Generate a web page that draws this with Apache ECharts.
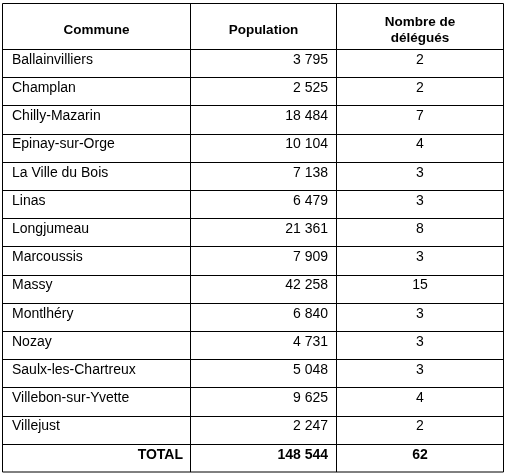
<!DOCTYPE html><html><head><meta charset="utf-8"><script src="https://cdn.jsdelivr.net/npm/echarts@6/dist/echarts.min.js"></script>
<style>html,body{margin:0;padding:0;background:#fff}#c{width:506px;height:476px}</style></head><body><div id="c"></div><script>
const headers=["Commune","Population","Nombre de\ndélégués"];
const communes=["Ballainvilliers","Champlan","Chilly-Mazarin","Epinay-sur-Orge","La Ville du Bois","Linas","Longjumeau","Marcoussis","Massy","Montlhéry","Nozay","Saulx-les-Chartreux","Villebon-sur-Yvette","Villejust"];
const population=["3 795","2 525","18 484","10 104","7 138","6 479","21 361","7 909","42 258","6 840","4 731","5 048","9 625","2 247"];
const delegues=["2","2","7","4","3","3","8","3","15","3","3","3","4","2"];
const total=["TOTAL","148 544","62"];
(function(){
const colX=[2.5,190.5,336.5,503.5];
const tableTop=3.5,headH=45.5,rowH=28.2;
const F='"Liberation Sans",Arial,sans-serif';
const g=[];
const nRows=communes.length+1;
const tableBottom=tableTop+headH+nRows*rowH;
g.push({type:'rect',shape:{x:colX[0],y:tableTop,width:colX[3]-colX[0],height:tableBottom-tableTop},style:{fill:'none',stroke:'#000',lineWidth:1}});
colX.slice(1,3).forEach(x=>g.push({type:'line',shape:{x1:x,y1:tableTop,x2:x,y2:tableBottom},style:{stroke:'#000',lineWidth:1}}));
for(let i=0;i<nRows;i++){const y=Math.round(tableTop+headH+i*rowH)+0.5;g.push({type:'line',shape:{x1:colX[0],y1:y,x2:colX[3],y2:y},style:{stroke:'#000',lineWidth:1}});}
const hc=[(colX[0]+colX[1])/2,(colX[1]+colX[2])/2,(colX[2]+colX[3])/2];
headers.forEach((h,i)=>g.push({type:'text',x:hc[i],y:tableTop+headH/2+4,style:{text:h,font:'bold 13.5px '+F,fill:'#000',align:'center',verticalAlign:'middle',lineHeight:16}}));
const rowText=(i,a,b,c,bold)=>{const yc=tableTop+headH+i*rowH+11;const f=(bold?'bold ':'')+'14px '+F;
 g.push({type:'text',x:bold?183:12,y:yc,style:{text:a,font:f,fill:'#000',align:bold?'right':'left',verticalAlign:'middle'}});
 g.push({type:'text',x:328,y:yc,style:{text:b,font:f,fill:'#000',align:'right',verticalAlign:'middle'}});
 g.push({type:'text',x:420,y:yc,style:{text:c,font:f,fill:'#000',align:'center',verticalAlign:'middle'}});};
communes.forEach((c,i)=>rowText(i,c,population[i],delegues[i],false));
rowText(communes.length,total[0],total[1],total[2],true);
const ch=echarts.init(document.getElementById('c'),null,{renderer:'canvas'});
ch.setOption({animation:false,graphic:{elements:g}});
})();
</script></body></html>
